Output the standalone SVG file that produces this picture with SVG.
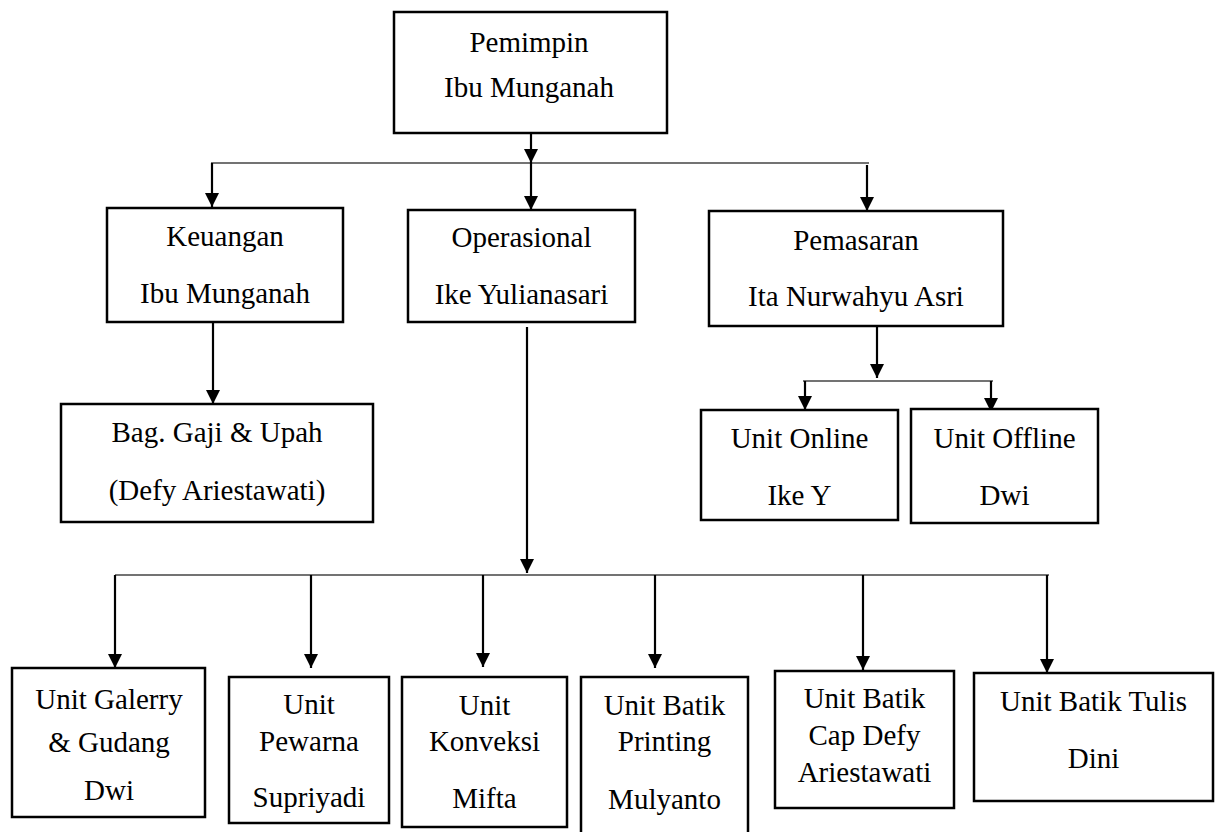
<svg xmlns="http://www.w3.org/2000/svg" width="1221" height="832" viewBox="0 0 1221 832" font-family="Liberation Serif, serif">
<style>
  .box { fill: #ffffff; stroke: #000000; stroke-width: 2.5; }
  text { font-family: 'Liberation Serif', 'DejaVu Serif', serif; font-size: 29px; fill: #000000; text-anchor: middle; }
  .v { stroke: #000000; stroke-width: 2.2; fill: none; }
  .h { stroke: #444444; stroke-width: 1.6; fill: none; }
</style>
<defs>
  <marker id="arr" viewBox="0 0 14 14" refX="14" refY="7" markerWidth="14" markerHeight="14" markerUnits="userSpaceOnUse" orient="auto">
    <path d="M0,0 L14,7 L0,14 z" fill="#000000"/>
  </marker>
</defs>
<rect width="1221" height="832" fill="#ffffff"/>

<g id="connectors">
  <line class="h" x1="211" y1="163" x2="869" y2="163"/>
  <line class="v" x1="531" y1="133" x2="531" y2="163" marker-end="url(#arr)"/>
  <line class="v" x1="531" y1="163" x2="531" y2="210" marker-end="url(#arr)"/>
  <line class="v" x1="212" y1="163" x2="212" y2="207" marker-end="url(#arr)"/>
  <line class="v" x1="867" y1="165" x2="867" y2="211" marker-end="url(#arr)"/>
  <line class="v" x1="213" y1="322" x2="213" y2="404" marker-end="url(#arr)"/>
  <line class="v" x1="877" y1="326" x2="877" y2="378" marker-end="url(#arr)"/>
  <line class="h" x1="803" y1="381" x2="993" y2="381"/>
  <line class="v" x1="805" y1="381" x2="805" y2="410" marker-end="url(#arr)"/>
  <line class="v" x1="991" y1="381" x2="991" y2="412" marker-end="url(#arr)"/>
  <line class="v" x1="527" y1="327" x2="527" y2="573" marker-end="url(#arr)"/>
  <line class="h" x1="115" y1="575" x2="1049" y2="575"/>
  <line class="v" x1="115" y1="575" x2="115" y2="668" marker-end="url(#arr)"/>
  <line class="v" x1="311" y1="575" x2="311" y2="668" marker-end="url(#arr)"/>
  <line class="v" x1="483" y1="575" x2="483" y2="667" marker-end="url(#arr)"/>
  <line class="v" x1="655" y1="575" x2="655" y2="668" marker-end="url(#arr)"/>
  <line class="v" x1="863" y1="575" x2="863" y2="670" marker-end="url(#arr)"/>
  <line class="v" x1="1047" y1="575" x2="1047" y2="673" marker-end="url(#arr)"/>
</g>

<g id="pemimpin">
  <rect class="box" x="394" y="12" width="273" height="121"/>
  <text x="529" y="52">Pemimpin</text>
  <text x="529" y="97">Ibu Munganah</text>
</g>
<g id="keuangan">
  <rect class="box" x="107" y="208" width="236" height="114"/>
  <text x="225" y="246">Keuangan</text>
  <text x="225" y="303">Ibu Munganah</text>
</g>
<g id="operasional">
  <rect class="box" x="408" y="210" width="227" height="112"/>
  <text x="521.5" y="247">Operasional</text>
  <text x="521.5" y="304">Ike Yulianasari</text>
</g>
<g id="pemasaran">
  <rect class="box" x="709" y="211" width="294" height="115"/>
  <text x="856" y="250">Pemasaran</text>
  <text x="856" y="306">Ita Nurwahyu Asri</text>
</g>
<g id="gaji">
  <rect class="box" x="61" y="404" width="312" height="118"/>
  <text x="217" y="442">Bag. Gaji &amp; Upah</text>
  <text x="217" y="500">(Defy Ariestawati)</text>
</g>
<g id="online">
  <rect class="box" x="701" y="410" width="197" height="110"/>
  <text x="799.5" y="448">Unit Online</text>
  <text x="799.5" y="505">Ike Y</text>
</g>
<g id="offline">
  <rect class="box" x="911" y="409" width="187" height="114"/>
  <text x="1004.5" y="448">Unit Offline</text>
  <text x="1004.5" y="505">Dwi</text>
</g>
<g id="galerry">
  <rect class="box" x="12" y="668" width="193" height="149"/>
  <text x="109" y="709">Unit Galerry</text>
  <text x="109" y="752">&amp; Gudang</text>
  <text x="109" y="800">Dwi</text>
</g>
<g id="pewarna">
  <rect class="box" x="229" y="677" width="160" height="146"/>
  <text x="309" y="714">Unit</text>
  <text x="309" y="751">Pewarna</text>
  <text x="309" y="807">Supriyadi</text>
</g>
<g id="konveksi">
  <rect class="box" x="402" y="677" width="165" height="150"/>
  <text x="484.5" y="715">Unit</text>
  <text x="484.5" y="751">Konveksi</text>
  <text x="484.5" y="808">Mifta</text>
</g>
<g id="printing">
  <rect class="box" x="581" y="677" width="167" height="170"/>
  <text x="664.5" y="715">Unit Batik</text>
  <text x="664.5" y="751">Printing</text>
  <text x="664.5" y="809">Mulyanto</text>
</g>
<g id="cap">
  <rect class="box" x="775" y="671" width="179" height="137"/>
  <text x="864.5" y="708">Unit Batik</text>
  <text x="864.5" y="745">Cap Defy</text>
  <text x="864.5" y="782">Ariestawati</text>
</g>
<g id="tulis">
  <rect class="box" x="974" y="673" width="239" height="128"/>
  <text x="1093.5" y="711">Unit Batik Tulis</text>
  <text x="1093.5" y="768">Dini</text>
</g>
</svg>
